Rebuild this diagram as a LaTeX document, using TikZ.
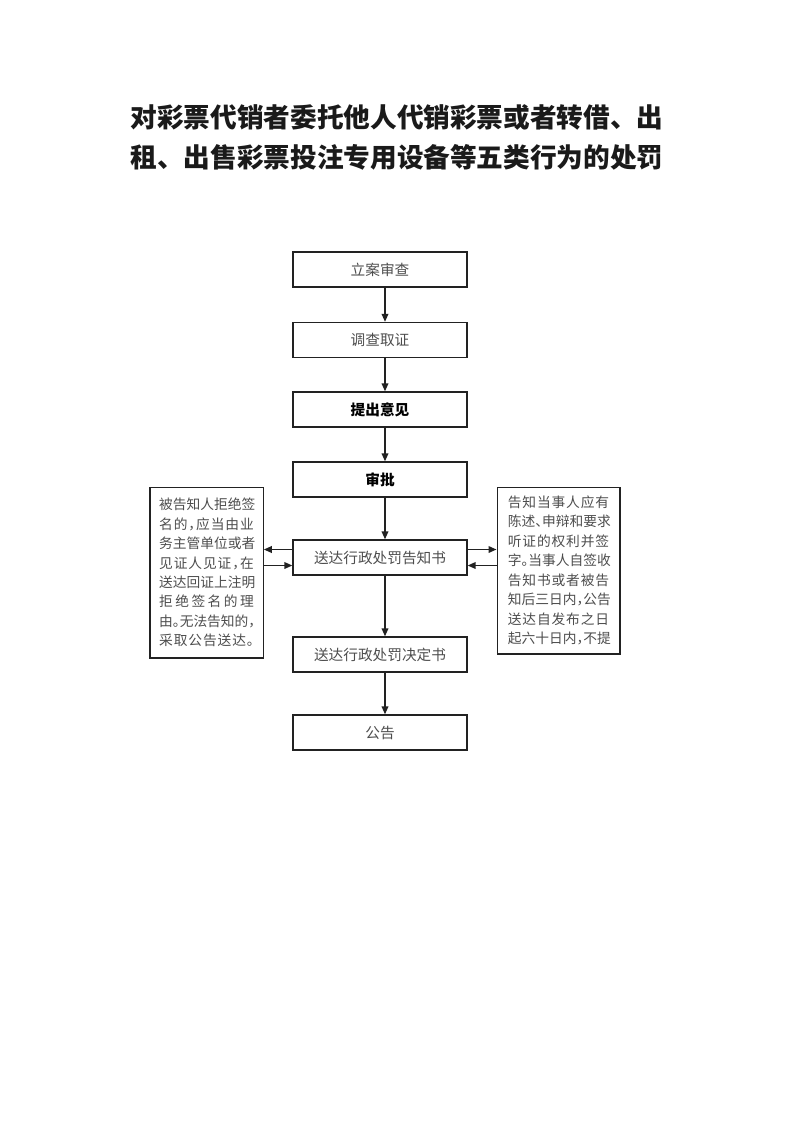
\documentclass[tikz,border=0pt]{standalone}
\usepackage{fontspec}
\usepackage{xcolor}
\usepackage{tikz}
\usetikzlibrary{arrows.meta}
\newfontfamily\cjk{Noto Sans CJK SC}
\newfontfamily\cjkh[RawFeature=+halt]{Noto Sans CJK SC}
\definecolor{ink}{HTML}{1A1A1A}
\definecolor{graytxt}{HTML}{4D4D4D}
\definecolor{edge}{HTML}{222222}
% one line of a note, spread over a fixed width
\makeatletter
\newcommand\spreadline[2]{\hbox to #1{\let\sepglue\relax
  \@tfor\ch:=#2\do{\sepglue\ch\let\sepglue\hfil}}}
\makeatother
\tikzset{
  proc/.style={draw=edge, line width=1pt, minimum width=130.5pt, minimum height=26.25pt,
    inner sep=0pt, font=\cjk\fontsize{11}{13}\selectfont, text=graytxt},
  procb/.style={proc, font=\cjk\bfseries\fontsize{11}{13}\selectfont, text=black},
  note/.style={draw=edge, line width=1pt, inner sep=0pt, align=center,
    font=\cjkh\fontsize{10.3}{14.6}\selectfont, text=graytxt},
  flow/.style={draw=edge, line width=1.1pt, -{Triangle[length=6pt,width=5pt]}},
  ttl/.style={font=\cjk\bfseries\fontsize{20}{29.5}\selectfont, text=ink, align=center}
}
\begin{document}
\begin{tikzpicture}[x=0.75pt,y=-0.75pt]
\useasboundingbox (0,0) rectangle (793,1122);

\node[ttl] (title) at (397,137.5) {对彩票代销者委托他人代销彩票或者转借、出\\租、出售彩票投注专用设备等五类行为的处罚};

% main column
\node[proc]  (lian)    at (380,269.5) {立案审查};
\node[proc]  (diaocha) at (380,340)   {调查取证};
\node[procb] (yijian)  at (380,409.5) {提出意见};
\node[procb] (shenpi)  at (380,479.5) {审批};
\node[proc]  (gaozhi)  at (380,557.5) {送达行政处罚告知书};
\node[proc]  (jueding) at (380,654.5) {送达行政处罚决定书};
\node[proc]  (gonggao) at (380,732.5) {公告};

% side notes
\node[note, minimum width=85pt, minimum height=128pt] (refuse) at (206.5,572.5)
  {\spreadline{71pt}{被告知人拒绝签}\\\spreadline{71pt}{名的，应当由业}\\
   \spreadline{71pt}{务主管单位或者}\\\spreadline{71pt}{见证人见证，在}\\
   \spreadline{71pt}{送达回证上注明}\\\spreadline{71pt}{拒绝签名的理}\\
   \spreadline{71pt}{由。无法告知的，}\\\spreadline{71pt}{采取公告送达。}};
\node[note, minimum width=92pt, minimum height=125pt] (rights) at (558.5,570.5)
  {\spreadline{76pt}{告知当事人应有}\\\spreadline{76pt}{陈述、申辩和要求}\\
   \spreadline{76pt}{听证的权利并签}\\\spreadline{76pt}{字。当事人自签收}\\
   \spreadline{76pt}{告知书或者被告}\\\spreadline{76pt}{知后三日内，公告}\\
   \spreadline{76pt}{送达自发布之日}\\\spreadline{76pt}{起六十日内，不提}};

\foreach \a/\b in {lian/diaocha,diaocha/yijian,yijian/shenpi,shenpi/gaozhi,gaozhi/jueding,jueding/gonggao}
  \draw[flow] ([xshift=3.75pt]\a.south) -- ([xshift=3.75pt]\b.north);

\draw[flow] ([yshift=6pt]gaozhi.west) -- ([yshift=6pt]gaozhi.west -| refuse.east);
\draw[flow] ([yshift=-6pt]gaozhi.west -| refuse.east) -- ([yshift=-6pt]gaozhi.west);
\draw[flow] ([yshift=6pt]gaozhi.east) -- ([yshift=6pt]gaozhi.east -| rights.west);
\draw[flow] ([yshift=-6pt]gaozhi.east -| rights.west) -- ([yshift=-6pt]gaozhi.east);
\end{tikzpicture}
\end{document}
